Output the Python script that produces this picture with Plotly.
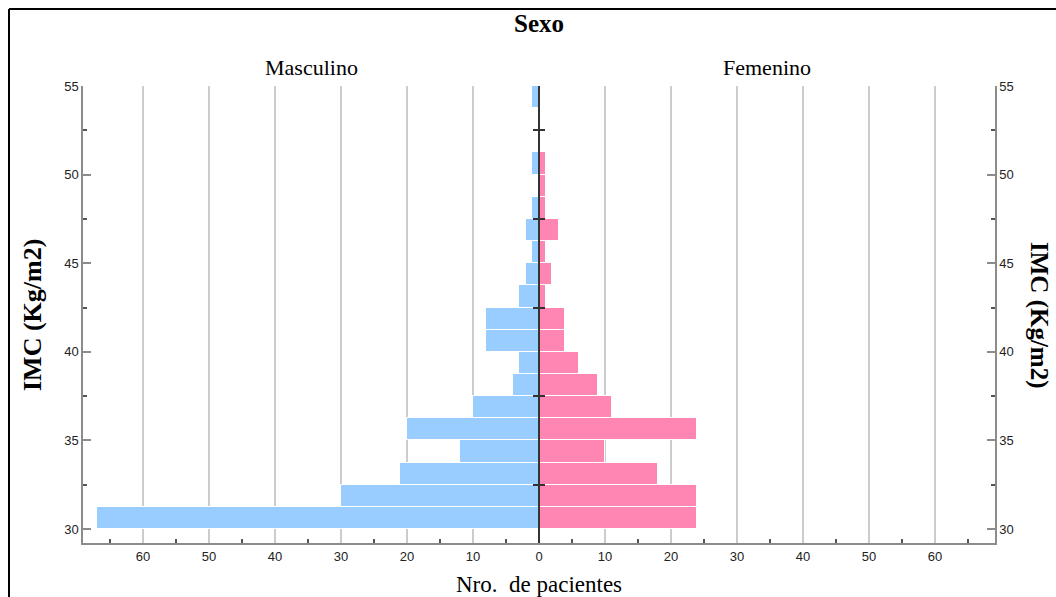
import plotly.graph_objects as go

# ---------------- data ----------------
imc_bin_start = [30.0, 31.25, 32.5, 33.75, 35.0, 36.25, 37.5, 38.75, 40.0, 41.25,
                 42.5, 43.75, 45.0, 46.25, 47.5, 48.75, 50.0, 51.25, 52.5, 53.75]
bin_width = 1.25
masculino = [67, 30, 21, 12, 20, 10, 4, 3, 8, 8, 3, 2, 1, 2, 1, 0, 1, 0, 0, 1]
femenino = [24, 24, 18, 10, 24, 11, 9, 6, 4, 4, 1, 2, 1, 3, 1, 1, 1, 0, 0, 0]

x_tick_values = [-60, -50, -40, -30, -20, -10, 0, 10, 20, 30, 40, 50, 60]
x_tick_labels = ["60", "50", "40", "30", "20", "10", "0", "10", "20", "30", "40", "50", "60"]
x_minor_values = [-65, -55, -45, -35, -25, -15, -5, 5, 15, 25, 35, 45, 55, 65]
y_tick_values = [30, 35, 40, 45, 50, 55]
y_tick_labels = ["30", "35", "40", "45", "50", "55"]
center_tick_values = [32.5, 37.5, 42.5, 47.5, 52.5]

# ---------------- geometry ----------------
W, H = 1056, 597
ML, MR, MT, MB = 83, 61, 86, 54
PW, PH = W - ML - MR, H - MT - MB
Y_RANGE = [29.21, 55]
X_RANGE = [-69.1, 69.1]


def px_x(px):
    return (px - ML) / PW


def px_y(py):
    return (H - MB - py) / PH


centers = [s + bin_width / 2 for s in imc_bin_start]

BLUE = "#99ccff"
PINK = "#ff85b3"
AXIS = "#8c8c8c"
GRID = "#cccccc"
SERIF = "Liberation Serif"
SANS = "Liberation Sans"

fig = go.Figure()
fig.add_trace(go.Bar(
    y=centers, x=[-v for v in masculino], orientation="h", width=bin_width,
    marker=dict(color=BLUE, line=dict(color="white", width=1)),
    name="Masculino", showlegend=False,
    customdata=masculino, hovertemplate="IMC %{y}<br>%{customdata}<extra>Masculino</extra>"))
fig.add_trace(go.Bar(
    y=centers, x=femenino, orientation="h", width=bin_width,
    marker=dict(color=PINK, line=dict(color="white", width=1)),
    name="Femenino", showlegend=False,
    hovertemplate="IMC %{y}<br>%{x}<extra>Femenino</extra>"))

# invisible helper traces so the extra axes are drawn
for ya in ["y2", "y3", "y4"]:
    fig.add_trace(go.Scatter(x=[None], y=[None], yaxis=ya, mode="markers",
                             showlegend=False, hoverinfo="skip"))

common_y = dict(range=Y_RANGE, fixedrange=True, zeroline=False, showgrid=False)

fig.update_layout(
    width=W, height=H,
    margin=dict(l=ML, r=MR, t=MT, b=MB, autoexpand=False),
    paper_bgcolor="white", plot_bgcolor="white",
    barmode="overlay", bargap=0,
    xaxis=dict(
        range=X_RANGE, tickmode="array", tickvals=x_tick_values, ticktext=x_tick_labels,
        showgrid=True, gridcolor=GRID, gridwidth=1.5, zeroline=False,
        showline=True, linecolor=AXIS, linewidth=1.5,
        ticks="", tickfont=dict(family=SANS, size=13, color="#222"),
        ticklabelstandoff=1,
        minor=dict(tickmode="array", tickvals=x_minor_values,
                   ticks="inside", ticklen=4, tickwidth=1.5, tickcolor="#555", showgrid=False),
    ),
    yaxis=dict(
        **common_y, tickmode="array", tickvals=y_tick_values, ticktext=y_tick_labels,
        showline=True, linecolor=AXIS, linewidth=1.5,
        ticks="inside", ticklen=8, tickwidth=1.5, tickcolor=AXIS,
        tickfont=dict(family=SANS, size=13, color="#222"),
        minor=dict(tickmode="array", tickvals=center_tick_values, ticks="inside",
                   ticklen=4, tickwidth=1.5, tickcolor="#555"),
    ),
    yaxis2=dict(
        **common_y, overlaying="y", side="right", anchor="x",
        tickmode="array", tickvals=y_tick_values, ticktext=y_tick_labels,
        showline=True, linecolor=AXIS, linewidth=1.5,
        ticks="inside", ticklen=8, tickwidth=1.5, tickcolor=AXIS,
        tickfont=dict(family=SANS, size=13, color="#222"),
        minor=dict(tickmode="array", tickvals=center_tick_values, ticks="inside",
                   ticklen=4, tickwidth=1.5, tickcolor="#555"),
    ),
    yaxis3=dict(
        **common_y, overlaying="y", anchor="free", position=0.5, side="left",
        showline=True, linecolor="#333", linewidth=2,
        tickmode="array", tickvals=center_tick_values, showticklabels=False,
        ticks="outside", ticklen=5, tickwidth=2, tickcolor="#333",
    ),
    yaxis4=dict(
        **common_y, overlaying="y", anchor="free", position=0.5, side="right",
        showline=True, linecolor="#333", linewidth=2,
        tickmode="array", tickvals=center_tick_values, showticklabels=False,
        ticks="outside", ticklen=5, tickwidth=2, tickcolor="#333",
    ),
)

annotations = [
    dict(text="<b>Sexo</b>", x=0.5, y=px_y(23), font=dict(family=SERIF, size=25, color="black")),
    dict(text="Masculino", x=0.25, y=px_y(68), font=dict(family=SERIF, size=22, color="black")),
    dict(text="Femenino", x=0.75, y=px_y(68), font=dict(family=SERIF, size=22, color="black")),
    dict(text="Nro.  de pacientes", x=0.5, y=px_y(584), font=dict(family=SERIF, size=23, color="black")),
    dict(text="<b>IMC (Kg/m2)</b>", x=px_x(32), y=px_y(315), textangle=-90,
         font=dict(family=SERIF, size=26, color="black")),
    dict(text="<b>IMC (Kg/m2)</b>", x=px_x(1039), y=px_y(315), textangle=90,
         font=dict(family=SERIF, size=25, color="black")),
]
for a in annotations:
    a.update(xref="paper", yref="paper", xanchor="center", yanchor="middle", showarrow=False)
fig.update_layout(annotations=annotations)

# outer frame (left and top edges visible in the picture)
fig.add_shape(type="line", xref="paper", yref="paper",
              x0=px_x(9), x1=px_x(9), y0=px_y(610), y1=px_y(9),
              line=dict(color="black", width=2))
fig.add_shape(type="line", xref="paper", yref="paper",
              x0=px_x(9), x1=px_x(1070), y0=px_y(9), y1=px_y(9),
              line=dict(color="black", width=2))

fig.write_html("out.html")
